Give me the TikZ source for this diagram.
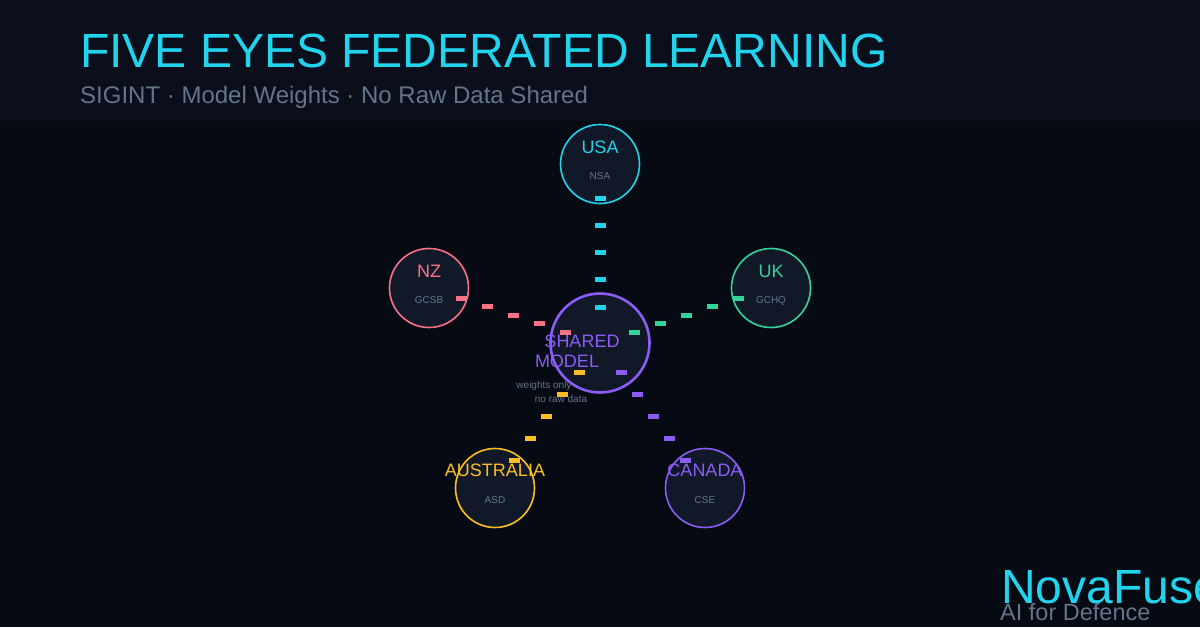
\documentclass[tikz,border=0pt]{standalone}
\usepackage{fontspec}
\setmainfont{Liberation Sans}
\usetikzlibrary{calc}
\definecolor{bg}{HTML}{060A12}
\definecolor{hdr}{HTML}{0A0F1B}
\definecolor{nodefill}{HTML}{111827}
\definecolor{cyanc}{HTML}{22D3EE}
\definecolor{greenc}{HTML}{34D399}
\definecolor{pinkc}{HTML}{FB7185}
\definecolor{yellowc}{HTML}{FBBF24}
\definecolor{purplec}{HTML}{8B5CF6}
\definecolor{grayc}{HTML}{64748B}
\tikzset{
  agency/.style={circle, fill=nodefill, line width=1.6pt, minimum size=79pt, inner sep=0pt},
  hubnode/.style={circle, fill=nodefill, draw=purplec, line width=2.6pt, minimum size=99pt, inner sep=0pt},
  dashmark/.style={rectangle, inner sep=0pt, minimum width=11pt, minimum height=5pt},
  namelbl/.style={anchor=base, inner sep=0pt, font=\fontsize{18}{18}\selectfont},
  sublbl/.style={anchor=base, inner sep=0pt, text=grayc, font=\fontsize{10}{10}\selectfont},
  lefttext/.style={anchor=base west, inner sep=0pt}
}
\begin{document}
\begin{tikzpicture}[x=1pt,y=-1pt]
\useasboundingbox (0,0) rectangle (1200,627);
\fill[bg] (0,0) rectangle (1200,627);
\fill[hdr] (0,0) rectangle (1200,121);

% header
\node[lefttext, text=cyanc, font=\fontsize{48}{48}\selectfont] (title) at (80,67) {FIVE EYES FEDERATED LEARNING};
\node[lefttext, text=grayc, font=\fontsize{24}{24}\selectfont] (subtitle) at (80,103) {SIGINT · Model Weights · No Raw Data Shared};

% circles
\node[hubnode] (hub) at (600,343) {};
\node[agency, draw=cyanc] (usa) at (600,164) {};
\node[agency, draw=greenc] (uk) at (771,288) {};
\node[agency, draw=pinkc] (nz) at (429,288) {};
\node[agency, draw=yellowc] (aus) at (495,488) {};
\node[agency, draw=purplec] (can) at (705,488) {};

% dashed links (weight packets)
\foreach \src/\col in {usa/cyanc, uk/greenc, nz/pinkc, aus/yellowc, can/purplec}{
  \foreach \t [count=\k] in {0.19,0.3425,0.495,0.6475,0.8}{
    \node[dashmark, fill=\col] (\src-d\k) at ($(\src)!\t!(hub)$) {};
  }
}

% labels
\node[namelbl, text=cyanc] (usa-n) at (600,153) {USA};
\node[sublbl] (usa-s) at (600,179) {NSA};
\node[namelbl, text=greenc] (uk-n) at (771,277) {UK};
\node[sublbl] (uk-s) at (771,303) {GCHQ};
\node[namelbl, text=pinkc] (nz-n) at (429,277) {NZ};
\node[sublbl] (nz-s) at (429,303) {GCSB};
\node[namelbl, text=yellowc] (aus-n) at (495,476) {AUSTRALIA};
\node[sublbl] (aus-s) at (495,503) {ASD};
\node[namelbl, text=purplec] (can-n) at (705,476) {CANADA};
\node[sublbl] (can-s) at (705,503) {CSE};

\node[namelbl, text=purplec] (hub-n1) at (582,347) {SHARED};
\node[namelbl, text=purplec] (hub-n2) at (567,367) {MODEL};
\node[sublbl] (hub-s1) at (544,388) {weights only};
\node[sublbl] (hub-s2) at (561,402) {no raw data};

% brand
\node[lefttext, text=cyanc, font=\fontsize{48}{48}\selectfont] (brand) at (1001,603) {NovaFuse};
\node[lefttext, text=grayc, font=\fontsize{23.5}{23.5}\selectfont] (tagline) at (1000,620) {AI for Defence};
\end{tikzpicture}
\end{document}
